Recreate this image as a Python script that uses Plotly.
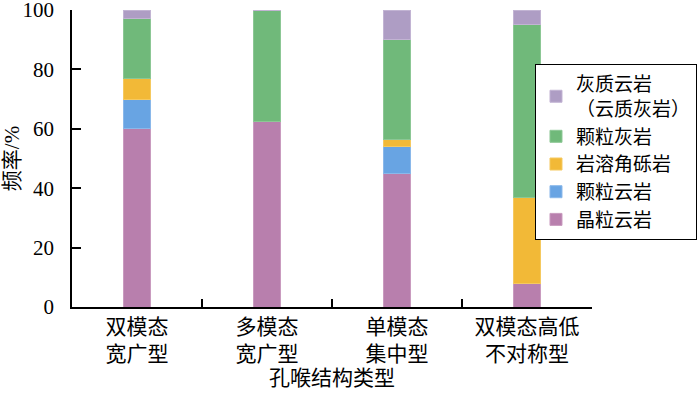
import plotly.graph_objects as go

categories = ["双模态<br>宽广型", "多模态<br>宽广型", "单模态<br>集中型", "双模态高低<br>不对称型"]
series_names = ["晶粒云岩", "颗粒云岩", "岩溶角砾岩", "颗粒灰岩", "灰质云岩<br>（云质灰岩）"]
jingli_yunyan = [60, 62.5, 45, 8]
keli_yunyan = [10, 0, 9, 0]
yanrong_jiaoliyan = [7, 0, 2.5, 29]
keli_huiyan = [20, 37.5, 33.5, 58]
huizhi_yunyan = [3, 0, 10, 5]
y_ticks = [0, 20, 40, 60, 80, 100]
colors = ["#b87fad", "#68a4e3", "#f2b937", "#70b97a", "#ae9dc4"]
edge_colors = ["#c99bbf", "#8ab8ea", "#f5c960", "#8cc795", "#c2b4d3"]

values = [jingli_yunyan, keli_yunyan, yanrong_jiaoliyan, keli_huiyan, huizhi_yunyan]

FONT = "Liberation Serif, Noto Sans CJK SC"

fig = go.Figure()
for name, vals, c, ec in zip(series_names, values, colors, edge_colors):
    fig.add_trace(go.Bar(
        x=categories, y=vals, name=name,
        marker=dict(color=c, line=dict(color=ec, width=1)),
        width=0.21,
    ))

fig.update_layout(
    barmode="stack",
    width=700, height=396,
    margin=dict(l=72, r=108, t=10, b=89, autoexpand=False),
    paper_bgcolor="white", plot_bgcolor="white",
    font=dict(family=FONT, size=21, color="black"),
    showlegend=True,
    legend=dict(
        x=1.2019, xanchor="right", y=0.818, yanchor="top",
        traceorder="reversed",
        bordercolor="black", borderwidth=1,
        bgcolor="white",
        font=dict(family=FONT, size=19, color="black"),
        tracegroupgap=0,
    ),
)
fig.update_xaxes(
    automargin=False,
    showline=True, linecolor="black", linewidth=1.5,
    ticks="inside", tickson="boundaries", ticklen=8, tickwidth=1.5, tickcolor="black",
    showgrid=False, zeroline=False,
    title=dict(text="孔喉结构类型", font=dict(family=FONT, size=21), standoff=5),
    tickfont=dict(family=FONT, size=21),
)
fig.update_yaxes(
    automargin=False,
    range=[0, 100], tickmode="array", tickvals=y_ticks,
    ticktext=[str(v) for v in y_ticks],
    ticklabeloverflow="allow",
    showline=True, linecolor="black", linewidth=1.5,
    ticks="inside", ticklen=9, tickwidth=1.5, tickcolor="black",
    showgrid=False, zeroline=False,
    ticklabelstandoff=12,
    title=dict(text="频率/%", font=dict(family=FONT, size=21), standoff=6),
    tickfont=dict(family=FONT, size=21),
)

fig.write_html("out.html", post_script="document.body.style.margin='0';",
               config={"displayModeBar": False})
